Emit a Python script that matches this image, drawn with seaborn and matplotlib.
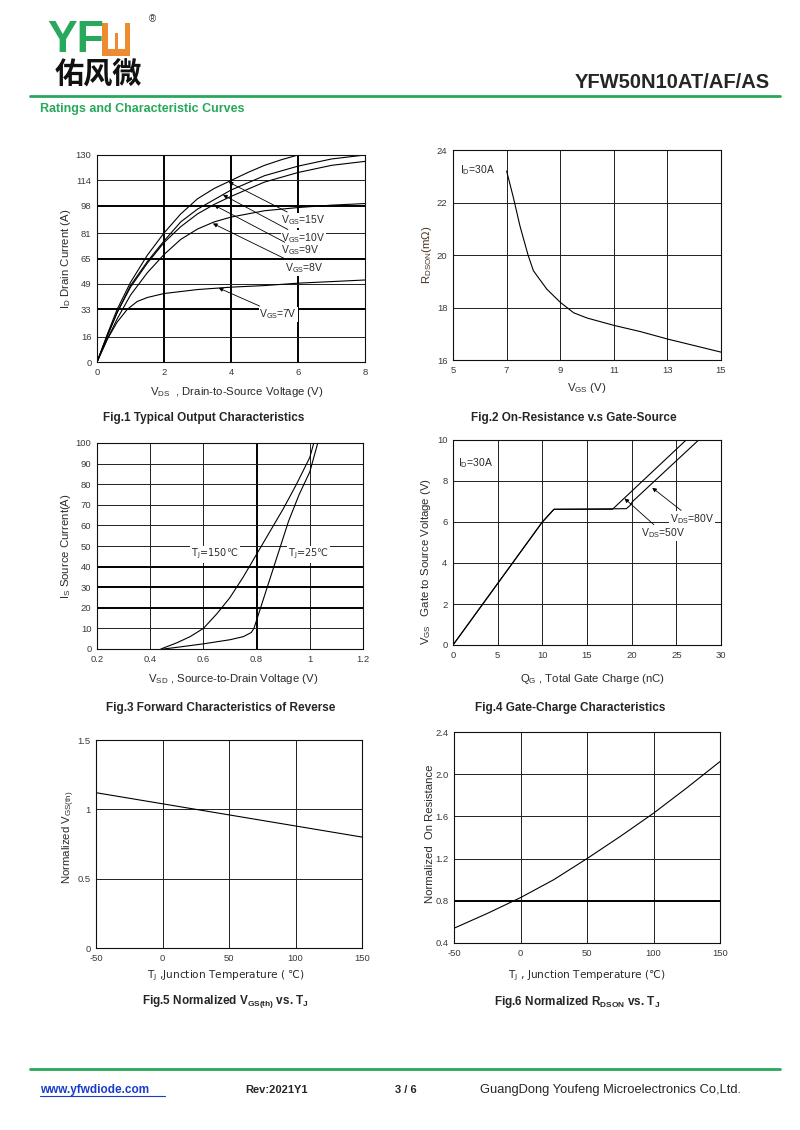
import numpy as np
import pandas as pd
import matplotlib
matplotlib.use('Agg')
import matplotlib.pyplot as plt
import matplotlib.patches as mpatches
from matplotlib.lines import Line2D
import seaborn as sns

# ============================================================
# Data
# ============================================================
# Fig.1 output characteristics
vds_15v = [0, 0.3, 0.6, 1, 1.5, 2, 2.5, 3, 3.5, 4, 4.5, 5, 5.5, 6.0]
id_15v = [0, 17, 33, 50, 67, 81, 93, 102.5, 109, 114, 119, 123.5, 127, 130]
vds_10v = [0, 0.3, 0.6, 1, 1.5, 2, 2.5, 3, 3.5, 4, 5, 6, 7, 8]
id_10v = [0, 16, 31, 48, 63, 76, 88, 96, 102, 108, 117, 123, 127.5, 130]
vds_9v = [0, 0.3, 0.6, 1, 1.5, 2, 2.5, 3, 3.5, 4, 5, 6, 7, 8]
id_9v = [0, 16, 31, 47, 62, 75, 85, 93, 99, 104, 113, 119, 123.5, 126]
vds_8v = [0, 0.3, 0.6, 1, 1.5, 2, 2.5, 3, 3.5, 4, 5, 6, 7, 8]
id_8v = [0, 14, 27, 42, 56, 67.5, 77, 83.5, 88, 91, 95, 97, 98.5, 99.5]
vds_7v = [0, 0.3, 0.6, 0.9, 1.2, 1.5, 2, 3, 4, 5, 6, 7, 8]
id_7v = [0, 14, 25, 33, 38, 40.5, 43, 45.5, 47, 48, 49.5, 50.5, 51.5]
vgs_labels = ['15V', '10V', '9V', '8V', '7V']

# Fig.2 on-resistance vs gate-source voltage
vgs_2 = [7, 7.25, 7.5, 7.8, 8, 8.5, 9, 9.5, 10, 11, 12, 13, 14, 15]
rdson_2 = [23.2, 22.2, 21.1, 20.0, 19.4, 18.7, 18.2, 17.8, 17.6, 17.32, 17.08, 16.8, 16.55, 16.3]

# Fig.3 body diode forward characteristics
vsd_150 = [0.44, 0.5, 0.55, 0.6, 0.65, 0.7, 0.75, 0.8, 0.85, 0.9, 0.95, 1.0, 1.015]
is_150 = [0, 3, 6, 10, 17, 25, 35, 46, 57, 68, 80, 93, 100]
vsd_25 = [0.45, 0.5, 0.6, 0.7, 0.75, 0.78, 0.79, 0.8, 0.84, 0.88, 0.92, 0.96, 1.0, 1.03]
is_25 = [0, 0.8, 2.5, 4.5, 6, 8, 10, 14, 30, 46, 62, 75, 86, 100]

# Fig.4 gate charge
qg_50 = [0, 10, 11.3, 17.85, 26.1]
vgs_50 = [0, 6, 6.62, 6.62, 10]
qg_80 = [0, 10, 11.3, 19.4, 19.8, 20.1, 27.5]
vgs_80 = [0, 6, 6.62, 6.65, 6.8, 7.0, 10]

# Fig.5 normalized threshold voltage
tj_5 = [-50, 0, 50, 100, 150]
vth_5 = [1.12, 1.04, 0.96, 0.88, 0.80]

# Fig.6 normalized on resistance
tj_6 = [-50, -25, 0, 25, 50, 75, 100, 125, 150]
ron_6 = [0.54, 0.68, 0.83, 1.0, 1.2, 1.41, 1.63, 1.87, 2.12]

# ============================================================
# Style
# ============================================================
sns.set_theme(style="white")
plt.rcParams['font.family'] = ['Liberation Sans', 'DejaVu Sans', 'Noto Sans CJK SC']
plt.rcParams['axes.unicode_minus'] = False

W, H = 800, 1130
GREEN = '#27a85a'
ORANGE = '#ee8a30'
TICK_C = '#3a3a3a'
TXT_C = '#2a2a2a'

fig = plt.figure(figsize=(W / 100, H / 100), dpi=100)


def fx(x):
    return x / W


def fy(y):
    return 1 - y / H


def add_ax(l, t, r, b):
    return fig.add_axes([fx(l), fy(b), (r - l) / W, (b - t) / H])


def style_ax(ax, xlim, ylim, xticks, yticks, xfmt=None, yfmt=None):
    ax.set_xlim(*xlim)
    ax.set_ylim(*ylim)
    ax.set_xticks(xticks)
    ax.set_yticks(yticks)
    if xfmt:
        ax.set_xticklabels(xfmt)
    if yfmt:
        ax.set_yticklabels(yfmt)
    ax.tick_params(length=0, labelsize=6.8, colors=TICK_C, pad=4)
    ax.grid(True, color='#202020', lw=0.7)
    for s in ax.spines.values():
        s.set_color('#101010')
        s.set_linewidth(0.8)
    ax.set_facecolor('white')


def curve(ax, xs, ys):
    sns.lineplot(x=xs, y=ys, ax=ax, color='black', lw=0.8,
                 estimator=None, sort=False)


def thicken(lines, idx, lw=1.4):
    for i in idx:
        lines[i].set_linewidth(lw)
        lines[i].set_color('black')


def ylabel(ax, txt, xc=-0.075, yc=0.5, color=TXT_C):
    ax.set_ylabel(txt, fontsize=8.2, color=color)
    ax.yaxis.set_label_coords(xc, yc)


def xlabel(ax, txt, xc=0.5, yc=-0.11, **kw):
    size = kw.pop('fontsize', 8.2)
    ax.set_xlabel(txt, fontsize=size, color=TXT_C, **kw)
    ax.xaxis.set_label_coords(xc, yc)


arrow = dict(arrowstyle='-|>', lw=0.6, color='black', mutation_scale=6,
             shrinkA=1, shrinkB=0)
lbl_kw = dict(fontsize=7.5, color=TXT_C, va='center', ha='left',
              bbox=dict(facecolor='white', edgecolor='none', pad=0.5))

# ============================================================
# Fig.1
# ============================================================
ax1 = add_ax(97, 155, 365, 362)
style_ax(ax1, (0, 8), (0, 130), [0, 2, 4, 6, 8], [0, 16, 33, 49, 65, 81, 98, 114, 130])
frames = []
for name, xs, ys in zip(vgs_labels, [vds_15v, vds_10v, vds_9v, vds_8v, vds_7v],
                        [id_15v, id_10v, id_9v, id_8v, id_7v]):
    frames.append(pd.DataFrame({'VDS': xs, 'ID': ys, 'VGS': name}))
df1 = pd.concat(frames, ignore_index=True)
sns.lineplot(data=df1, x='VDS', y='ID', units='VGS', estimator=None, sort=False,
             color='black', lw=0.8, ax=ax1)
thicken(ax1.get_xgridlines(), [1, 2, 3])
thicken(ax1.get_ygridlines(), [2, 4, 6])
ann1 = [('15V', (3.93, 113), (5.5, 89)),
        ('10V', (3.76, 105), (5.5, 78)),
        ('9V', (3.5, 98.5), (5.5, 70)),
        ('8V', (3.46, 87), (5.6, 59)),
        ('7V', (3.63, 46.5), (4.85, 30))]
for v, head, tail in ann1:
    ax1.annotate(r'V$_{\mathregular{GS}}$=' + v, xy=head, xytext=tail,
                 arrowprops=arrow, **lbl_kw)
ylabel(ax1, r'I$_{\mathregular{D}}$ Drain Current (A)', xc=-0.09)
xlabel(ax1, r'V$_{\mathregular{DS}}$  , Drain-to-Source Voltage (V)', xc=0.52, yc=-0.11)

# ============================================================
# Fig.2
# ============================================================
ax2 = add_ax(453, 150, 721, 360)
style_ax(ax2, (5, 15), (16, 24), [5, 7, 9, 11, 13, 15], [16, 18, 20, 22, 24])
curve(ax2, vgs_2, rdson_2)
ax2.text(5.25, 23.25, r'I$_{\mathregular{D}}$=30A', fontsize=7.5, color=TXT_C,
         va='center', ha='left')
ylabel(ax2, r'R$_{\mathregular{DSON}}$(mΩ)', xc=-0.072, color='#4a3320')
xlabel(ax2, r'V$_{\mathregular{GS}}$ (V)', xc=0.5, yc=-0.1)

# ============================================================
# Fig.3
# ============================================================
ax3 = add_ax(97, 443, 363, 649)
style_ax(ax3, (0.2, 1.2), (0, 100), [0.2, 0.4, 0.6, 0.8, 1.0, 1.2], list(range(0, 101, 10)),
         xfmt=['0.2', '0.4', '0.6', '0.8', '1', '1.2'])
curve(ax3, vsd_150, is_150)
curve(ax3, vsd_25, is_25)
thicken(ax3.get_xgridlines(), [3])
thicken(ax3.get_ygridlines(), [2, 3, 4])
for xt, t in [(0.643, r'T$_{\mathregular{J}}$=150℃'), (0.995, r'T$_{\mathregular{J}}$=25℃')]:
    ax3.text(xt, 46, t, fontsize=7, color=TXT_C, family='DejaVu Sans',
             ha='center', va='center', bbox=dict(facecolor='white', edgecolor='none', pad=1))
ylabel(ax3, r'I$_{\mathregular{S}}$ Source Current(A)', xc=-0.09)
xlabel(ax3, r'V$_{\mathregular{SD}}$ , Source-to-Drain Voltage (V)', xc=0.51, yc=-0.112)

# ============================================================
# Fig.4
# ============================================================
ax4 = add_ax(453, 440, 721, 645)
style_ax(ax4, (0, 30), (0, 10), [0, 5, 10, 15, 20, 25, 30], [0, 2, 4, 6, 8, 10])
curve(ax4, qg_50, vgs_50)
curve(ax4, qg_80, vgs_80)
ax4.text(0.56, 8.86, r'I$_{\mathregular{D}}$=30A', fontsize=7.5, color=TXT_C,
         va='center', ha='left')
ax4.annotate(r'V$_{\mathregular{DS}}$=80V', xy=(22.3, 7.67), xytext=(24.3, 6.15),
             arrowprops=arrow, **lbl_kw)
ax4.annotate(r'V$_{\mathregular{DS}}$=50V', xy=(19.2, 7.15), xytext=(21.1, 5.45),
             arrowprops=arrow, **lbl_kw)
ylabel(ax4, r'V$_{\mathregular{GS}}$   Gate to Source Voltage (V)', xc=-0.075, yc=0.405)
xlabel(ax4, r'Q$_{\mathregular{G}}$ , Total Gate Charge (nC)', xc=0.52, yc=-0.13)

# ============================================================
# Fig.5
# ============================================================
ax5 = add_ax(96, 740, 362, 948)
style_ax(ax5, (-50, 150), (0, 1.5), [-50, 0, 50, 100, 150], [0, 0.5, 1.0, 1.5],
         yfmt=['0', '0.5', '1', '1.5'])
curve(ax5, tj_5, vth_5)
ylabel(ax5, r'Normalized V$_{\mathregular{GS(th)}}$', xc=-0.072, yc=0.53)
xlabel(ax5, r'T$_{\mathregular{J}}$ ,Junction Temperature ( ℃)', xc=0.49, yc=-0.1,
       family='DejaVu Sans', fontsize=7.6)

# ============================================================
# Fig.6
# ============================================================
ax6 = add_ax(454, 732, 720, 943)
style_ax(ax6, (-50, 150), (0.4, 2.4), [-50, 0, 50, 100, 150], [0.4, 0.8, 1.2, 1.6, 2.0, 2.4])
curve(ax6, tj_6, ron_6)
thicken(ax6.get_ygridlines(), [1])
ylabel(ax6, 'Normalized  On Resistance', xc=-0.072, yc=0.52)
xlabel(ax6, r'T$_{\mathregular{J}}$ , Junction Temperature (℃)', xc=0.5, yc=-0.123,
       family='DejaVu Sans', fontsize=7.6)

# ============================================================
# Captions
# ============================================================
caps = [(204, 418, 'Fig.1 Typical Output Characteristics'),
        (574, 418, 'Fig.2 On-Resistance v.s Gate-Source'),
        (221, 708, 'Fig.3 Forward Characteristics of Reverse'),
        (570, 708, 'Fig.4 Gate-Charge Characteristics'),
        (225, 1002, r'Fig.5 Normalized V$_{\mathregular{GS(th)}}$ vs. T$_{\mathregular{J}}$'),
        (577, 1002, r'Fig.6 Normalized R$_{\mathregular{DSON}}$ vs. T$_{\mathregular{J}}$')]
for x, y, t in caps:
    fig.text(fx(x), fy(y), t, fontsize=8.5, fontweight='bold', ha='center', va='center')

# ============================================================
# Header
# ============================================================
fig.text(fx(47), fy(40), 'YF', fontsize=32, fontweight='bold', color=GREEN,
         ha='left', va='center')
fig.add_artist(mpatches.Rectangle((fx(102), fy(56)), 28 / W, 33 / H,
                                  transform=fig.transFigure, color=ORANGE, lw=0))
fig.add_artist(mpatches.Rectangle((fx(108), fy(49)), 17 / W, 26 / H,
                                  transform=fig.transFigure, color='white', lw=0))
fig.add_artist(mpatches.Rectangle((fx(115), fy(49)), 3 / W, 16 / H,
                                  transform=fig.transFigure, color=ORANGE, lw=0))
fig.text(fx(152), fy(19), '®', fontsize=7, color='#333333', ha='center', va='center')
fig.text(fx(98), fy(75), '佑风微', fontsize=21, family=['Noto Sans CJK SC'],
         fontweight='bold', color='#111111', ha='center', va='center')
fig.text(fx(770), fy(83), 'YFW50N10AT/AF/AS', fontsize=14.5, fontweight='bold',
         ha='right', va='center')
fig.add_artist(Line2D([fx(30), fx(780)], [fy(96), fy(96)], transform=fig.transFigure,
                      color=GREEN, lw=2))
fig.text(fx(40), fy(109), 'Ratings and Characteristic Curves', fontsize=9,
         fontweight='bold', color=GREEN, ha='left', va='center')

# ============================================================
# Footer
# ============================================================
fig.add_artist(Line2D([fx(30), fx(780)], [fy(1069), fy(1069)], transform=fig.transFigure,
                      color=GREEN, lw=2))
fig.text(fx(40), fy(1090), 'www.yfwdiode.com', fontsize=8.5, fontweight='bold',
         color='#1a3cc8', ha='left', va='center')
fig.add_artist(Line2D([fx(40), fx(165)], [fy(1096), fy(1096)], transform=fig.transFigure,
                      color='#1a3cc8', lw=0.8))
fig.text(fx(245), fy(1090), 'Rev:2021Y1', fontsize=8, fontweight='bold',
         ha='left', va='center')
fig.text(fx(395), fy(1090), '3 / 6', fontsize=8, fontweight='bold',
         ha='left', va='center')
fig.text(fx(480), fy(1090), 'GuangDong Youfeng Microelectronics Co,Ltd.', fontsize=9.3,
         ha='left', va='center')

fig.savefig('out.png', dpi=100, facecolor='white')
plt.close(fig)
